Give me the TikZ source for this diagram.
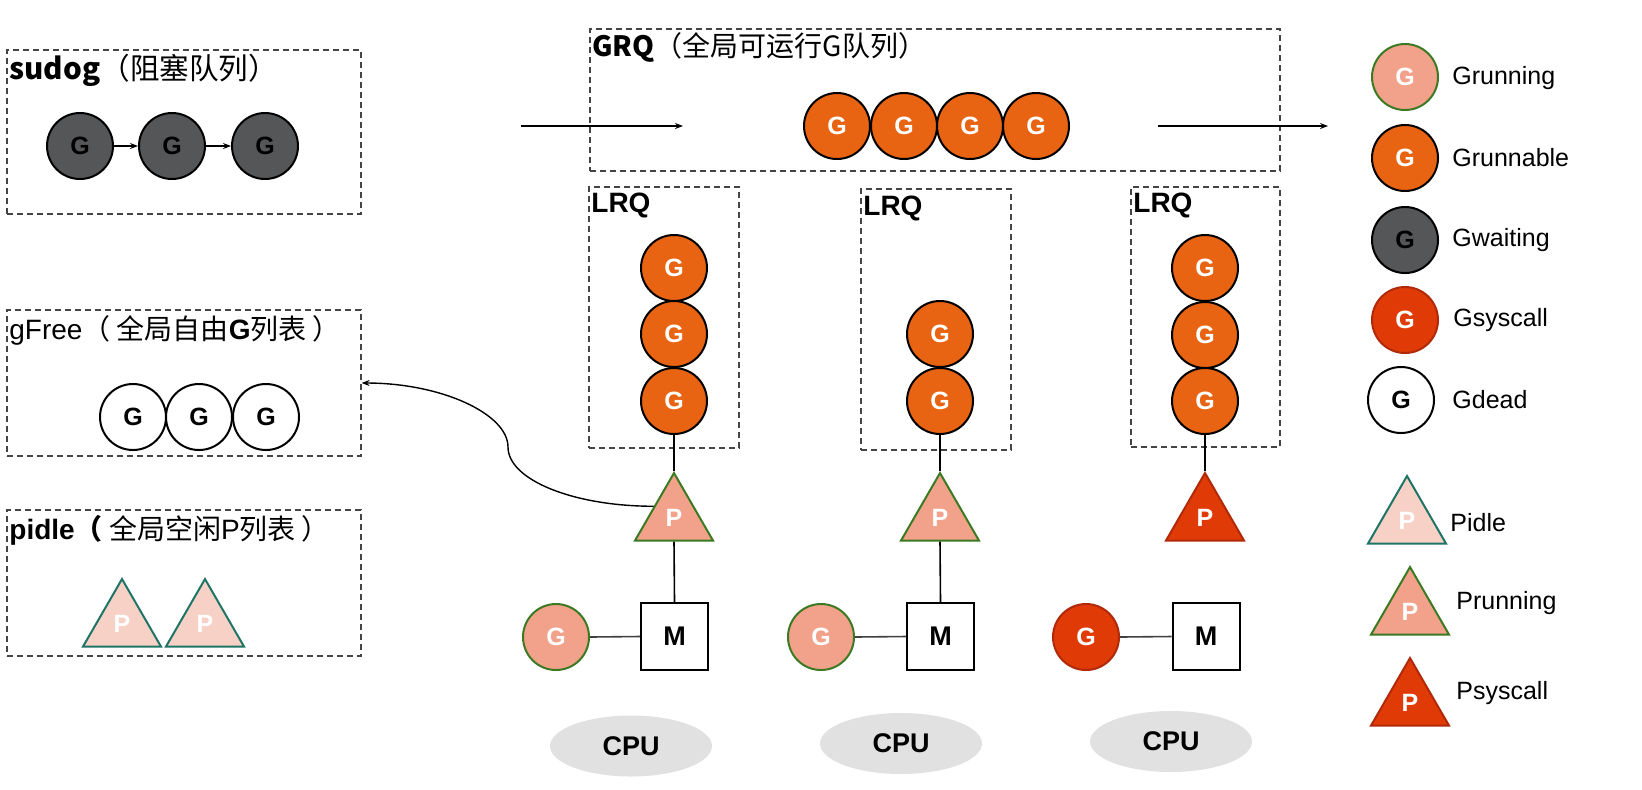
\documentclass[tikz,border=0pt]{standalone}
\usepackage{fontspec}
\setmainfont{Liberation Sans}
\newfontfamily\cjk{Noto Sans CJK SC}
\usetikzlibrary{shapes.geometric,arrows.meta}
\definecolor{orangeG}{HTML}{E86412}
\definecolor{salmonG}{HTML}{F2A18A}
\definecolor{runGreen}{HTML}{3B7A22}
\definecolor{waitGray}{HTML}{555658}
\definecolor{sysRed}{HTML}{E03A06}
\definecolor{sysBorder}{HTML}{B02A0A}
\definecolor{idleFill}{HTML}{F7D1C5}
\definecolor{idleBorder}{HTML}{1E7466}
\definecolor{cpuGray}{HTML}{E1E1E1}
\definecolor{boxGray}{HTML}{444444}
\newcommand\myGfnt{\fontsize{12.5}{15}\selectfont}
\newcommand\myLfnt{\fontsize{12.5}{15}\selectfont}
\newcommand\myTfnt{\fontsize{14}{17}\selectfont}
\newcommand\myMfnt{\fontsize{13.5}{16}\selectfont\bfseries}
\tikzset{
 gnode/.style={circle, minimum size=33pt, inner sep=0pt, line width=1pt, font=\myGfnt\bfseries},
 grunning/.style={gnode, fill=salmonG, draw=runGreen, text=white},
 grunnable/.style={gnode, fill=orangeG, draw=black, text=white},
 gwaiting/.style={gnode, fill=waitGray, draw=black, text=black},
 gsyscall/.style={gnode, fill=sysRed, draw=sysBorder, text=white},
 gdead/.style={gnode, fill=white, draw=black, text=black},
 pnode/.style={regular polygon, regular polygon sides=3, minimum size=45pt, inner sep=0pt, line width=1pt, font=\myGfnt\bfseries, text=white},
 pidlestyle/.style={pnode, fill=idleFill, draw=idleBorder},
 prunning/.style={pnode, fill=salmonG, draw=runGreen},
 psyscall/.style={pnode, fill=sysRed, draw=sysBorder},
 qbox/.style={rectangle, draw=boxGray, line width=0.6pt, dash pattern=on 3pt off 2pt, inner sep=0pt},
 title/.style={anchor=west, inner sep=0pt, font=\myTfnt},
 legend/.style={anchor=west, inner sep=0pt, font=\myLfnt},
 mbox/.style={rectangle, draw=black, line width=1pt, minimum size=33.5pt, inner sep=0pt, fill=white, font=\myMfnt},
 cpu/.style={ellipse, fill=cpuGray, minimum width=81pt, minimum height=30.5pt, inner sep=0pt, font=\myMfnt},
 link/.style={line width=0.8pt},
 arr/.style={-{Stealth[length=4pt,width=3pt]}, line width=0.6pt},
}
\begin{document}
\begin{tikzpicture}[x=0.5pt,y=-0.5pt]
\useasboundingbox (0,0) rectangle (1642,789);

% queue boxes
\node[qbox, minimum width=177pt, minimum height=82pt] (sudog) at (184,132) {};
\node[qbox, minimum width=177pt, minimum height=73pt] (gfree) at (184,383) {};
\node[qbox, minimum width=177pt, minimum height=73pt] (pidle) at (184,583) {};
\node[qbox, minimum width=345pt, minimum height=71pt] (grq) at (935,100) {};
\node[qbox, minimum width=75pt, minimum height=130.5pt] (lrq1) at (664,317.5) {};
\node[qbox, minimum width=75pt, minimum height=130.5pt] (lrq2) at (936,319.5) {};
\node[qbox, minimum width=74.5pt, minimum height=130pt] (lrq3) at (1205.5,317) {};

% titles
\node[title, font=\fontsize{14.8}{18}\selectfont] (tsudog) at (9,70) {{\cjk\bfseries sudog}{\cjk（阻塞队列）}};
\node[title] (tgrq) at (592,47) {{\cjk\bfseries GRQ}{\cjk（全局可运行G队列）}};
\node[title] (tgfree) at (9,330) {gFree{\cjk（ 全局自由}{\bfseries G}{\cjk 列表 ）}};
\node[title] (tpidle) at (9,530) {{\bfseries pidle}{\cjk\bfseries（}{\cjk\ 全局空闲}P{\cjk 列表 ）}};
\node[title, font=\myTfnt\bfseries] (tl1) at (591,205) {LRQ};
\node[title, font=\myTfnt\bfseries] (tl2) at (863,208) {LRQ};
\node[title, font=\myTfnt\bfseries] (tl3) at (1133,205) {LRQ};

% sudog
\node[gwaiting] (s1) at (80,146) {G};
\node[gwaiting] (s2) at (172,146) {G};
\node[gwaiting] (s3) at (265,146) {G};
\draw[arr] (s1) -- (s2);
\draw[arr] (s2) -- (s3);

% gFree
\node[gdead] (f1) at (133,417) {G};
\node[gdead] (f2) at (199,417) {G};
\node[gdead] (f3) at (266,417) {G};

% pidle
\node[pidlestyle] (ip1) at (122,624) {P};
\node[pidlestyle] (ip2) at (205,624) {P};

% GRQ
\node[grunnable] (q1) at (837,126) {G};
\node[grunnable] (q2) at (904,126) {G};
\node[grunnable] (q3) at (970,126) {G};
\node[grunnable] (q4) at (1036,126) {G};
\coordinate (ain1) at (521,126);
\coordinate (ain2) at (683,126);
\coordinate (aout1) at (1158,126);
\coordinate (aout2) at (1328,126);
\draw[arr] (ain1) -- (ain2);
\draw[arr] (aout1) -- (aout2);

% LRQ 1
\node[grunnable] (a1) at (674,268) {G};
\node[grunnable] (a2) at (674,334) {G};
\node[grunnable] (a3) at (674,401) {G};
% LRQ 2
\node[grunnable] (b2) at (940,334) {G};
\node[grunnable] (b3) at (940,401) {G};
% LRQ 3
\node[grunnable] (c1) at (1205,268) {G};
\node[grunnable] (c2) at (1205,335) {G};
\node[grunnable] (c3) at (1205,401) {G};

% P
\node[prunning] (p1) at (674,518) {P};
\node[prunning] (p2) at (940,518) {P};
\node[psyscall] (p3) at (1205,518) {P};

% M
\node[mbox] (m1) at (674.5,636.5) {M};
\node[mbox] (m2) at (940.5,636.5) {M};
\node[mbox] (m3) at (1206,636.5) {M};

% G running
\node[grunning] (r1) at (556,637) {G};
\node[grunning] (r2) at (821,637) {G};
\node[gsyscall] (r3) at (1086,637) {G};

% CPU
\node[cpu] (cpu1) at (631,746) {CPU};
\node[cpu] (cpu2) at (901,743.5) {CPU};
\node[cpu] (cpu3) at (1171,741.5) {CPU};

% links
\draw[link] (a3.south) -- (p1.corner 1);
\draw[link] (b3.south) -- (p2.corner 1);
\draw[link] (c3.south) -- (p3.corner 1);
\draw[link] (p1.side 2) -- (m1.north);
\draw[link] (p2.side 2) -- (m2.north);
\draw[link, draw=black!75] (r1.east) -- (m1.west);
\draw[link, draw=black!75] (r2.east) -- (m2.west);
\draw[link, draw=black!75] (r3.east) -- (m3.west);

% curve to gFree
\coordinate (mid) at (508,447);
\draw[arr, line width=0.7pt] (p1.side 1) .. controls +(-80,0) and +(0,33) .. (mid) .. controls +(0,-33) and +(80,0) .. (gfree.east);

% legend
\node[grunning] (l1) at (1405,77) {G};
\node[grunnable] (l2) at (1405,158) {G};
\node[gwaiting] (l3) at (1405,240) {G};
\node[gsyscall] (l4) at (1405,320) {G};
\node[gdead] (l5) at (1401,400) {G};
\node[legend] (lt1) at (1452,78) {Grunning};
\node[legend] (lt2) at (1452,158) {Grunnable};
\node[legend] (lt3) at (1452,240) {Gwaiting};
\node[legend] (lt4) at (1453,320) {Gsyscall};
\node[legend] (lt5) at (1452,400) {Gdead};
\node[pidlestyle] (lp1) at (1407,521) {P};
\node[prunning] (lp2) at (1410,612) {P};
\node[psyscall] (lp3) at (1410,703) {P};
\node[legend] (lpt1) at (1450,523) {Pidle};
\node[legend] (lpt2) at (1456,603) {Prunning};
\node[legend] (lpt3) at (1456,693) {Psyscall};
\end{tikzpicture}
\end{document}
